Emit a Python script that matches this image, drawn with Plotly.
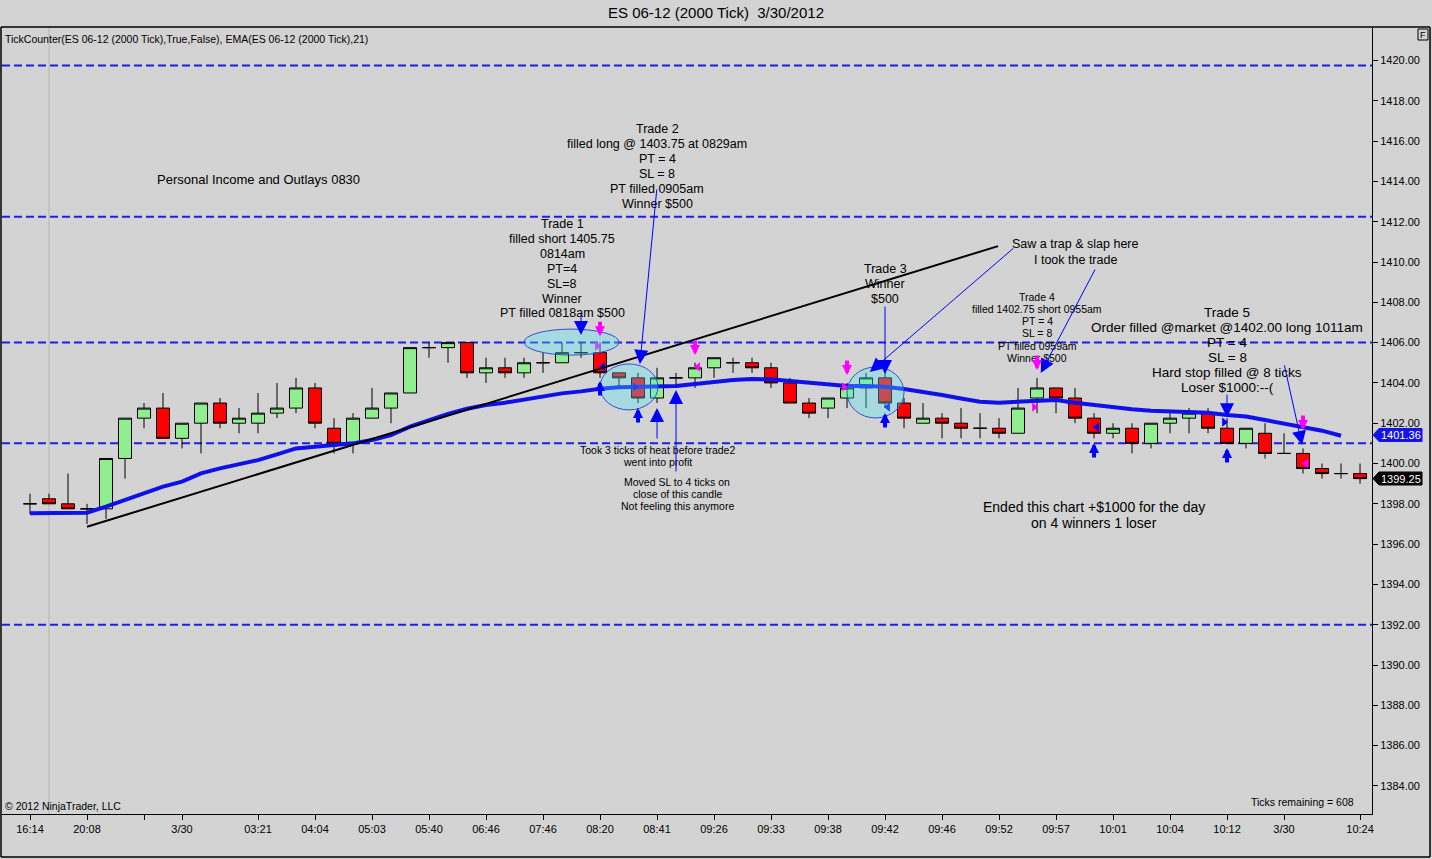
import plotly.graph_objects as go

# --- figure size and plot margins (pixels) ---
W, H = 1432, 859
ML, MR, MT, MB = 2, 60, 28, 45
FONT = "Liberation Sans, Arial, sans-serif"

# --- bar data (ES 06-12, 2000 tick bars) ---
bar_no = list(range(71))
opens = [1398.0, 1398.25, 1398.0, 1397.75, 1397.75, 1400.25, 1402.25, 1402.75, 1401.25, 1402.0,
         1403.0, 1402.0, 1402.0, 1402.5, 1402.75, 1403.75, 1401.75, 1401.0, 1402.25, 1402.75,
         1403.5, 1405.75, 1405.75, 1406.0, 1404.5, 1404.75, 1404.5, 1405.0, 1405.0, 1405.5,
         1405.5, 1404.5, 1404.25, 1403.25, 1404.25, 1404.25, 1404.75, 1405.0, 1405.0, 1404.75,
         1404.0, 1403.0, 1402.75, 1403.25, 1403.75, 1404.25, 1403.0, 1402.0, 1402.25, 1402.0,
         1401.75, 1401.75, 1401.5, 1403.25, 1403.75, 1403.25, 1402.25, 1401.5, 1401.75, 1401.0,
         1402.0, 1402.25, 1402.5, 1401.75, 1401.0, 1401.5, 1400.5, 1400.5, 1399.75, 1399.5,
         1399.5]
highs = [1398.5, 1398.5, 1399.5, 1398.0, 1400.25, 1402.25, 1403.0, 1403.5, 1402.0, 1403.0,
         1403.25, 1402.75, 1403.5, 1404.0, 1404.25, 1404.0, 1402.25, 1402.5, 1403.75, 1403.5,
         1405.75, 1406.0, 1406.0, 1406.0, 1405.25, 1405.25, 1405.25, 1405.5, 1406.0, 1406.0,
         1406.0, 1404.5, 1404.5, 1404.75, 1404.5, 1405.0, 1405.25, 1405.25, 1405.25, 1405.0,
         1404.25, 1403.25, 1403.25, 1404.0, 1404.5, 1404.75, 1403.25, 1403.0, 1402.5, 1402.75,
         1402.5, 1402.25, 1403.75, 1404.25, 1403.75, 1403.75, 1402.5, 1402.0, 1402.0, 1402.0,
         1402.5, 1402.75, 1402.75, 1402.25, 1401.75, 1402.0, 1401.5, 1400.75, 1400.0, 1400.0,
         1400.0]
lows = [1397.5, 1398.0, 1397.75, 1397.0, 1397.25, 1399.25, 1401.75, 1401.25, 1400.75, 1400.5,
        1401.75, 1401.5, 1401.5, 1402.25, 1402.5, 1401.75, 1400.5, 1400.5, 1402.25, 1402.0,
        1403.5, 1405.25, 1405.0, 1404.25, 1404.0, 1404.25, 1404.25, 1404.5, 1405.0, 1405.25,
        1404.25, 1403.75, 1403.0, 1403.0, 1403.75, 1403.75, 1404.25, 1404.5, 1404.5, 1403.75,
        1403.0, 1402.25, 1402.25, 1402.75, 1402.75, 1402.75, 1401.75, 1402.0, 1401.25, 1401.25,
        1401.25, 1401.25, 1401.5, 1402.5, 1402.5, 1402.0, 1401.25, 1401.25, 1400.5, 1400.75,
        1401.5, 1401.5, 1401.5, 1401.0, 1400.75, 1400.25, 1400.5, 1399.5, 1399.25, 1399.25,
        1399.0]
closes = [1398.0, 1398.0, 1397.75, 1397.75, 1400.25, 1402.25, 1402.75, 1401.25, 1402.0, 1403.0,
          1402.0, 1402.25, 1402.5, 1402.75, 1403.75, 1402.0, 1401.0, 1402.25, 1402.75, 1403.5,
          1405.75, 1405.75, 1406.0, 1404.5, 1404.75, 1404.5, 1405.0, 1405.0, 1405.5, 1405.5,
          1404.5, 1404.25, 1403.25, 1404.25, 1404.25, 1404.75, 1405.25, 1405.0, 1404.75, 1404.0,
          1403.0, 1402.5, 1403.25, 1403.75, 1404.25, 1403.0, 1402.25, 1402.25, 1402.0, 1401.75,
          1401.75, 1401.5, 1402.75, 1403.75, 1403.25, 1402.25, 1401.5, 1401.75, 1401.0, 1402.0,
          1402.25, 1402.5, 1401.75, 1401.0, 1401.75, 1400.5, 1400.5, 1399.75, 1399.5, 1399.5,
          1399.25]

# EMA(21) as drawn on the chart (last bar has no value yet)
ema21 = [1397.53, 1397.53, 1397.54, 1397.56, 1397.86, 1398.19, 1398.57, 1398.85, 1399.10, 1399.51,
         1399.76, 1399.96, 1400.17, 1400.45, 1400.75, 1400.83, 1400.92, 1401.00, 1401.17, 1401.41,
         1401.83, 1402.16, 1402.46, 1402.72, 1402.90, 1403.02, 1403.19, 1403.35, 1403.48, 1403.58,
         1403.71, 1403.78, 1403.81, 1403.81, 1403.85, 1403.95, 1404.06, 1404.14, 1404.19, 1404.18,
         1404.10, 1404.01, 1403.90, 1403.85, 1403.85, 1403.81, 1403.70, 1403.57, 1403.40, 1403.23,
         1403.07, 1403.02, 1403.07, 1403.15, 1403.15, 1403.02, 1402.90, 1402.79, 1402.69, 1402.62,
         1402.60, 1402.57, 1402.52, 1402.41, 1402.33, 1402.16, 1402.00, 1401.80, 1401.63, 1401.38]

# time axis labels
tick_bars = [0, 3, 6, 8, 12, 15, 18, 21, 24, 27, 30, 33, 36, 39, 42, 45, 48, 51, 54, 57, 60, 63, 66, 70]
tick_labels = ["16:14", "20:08", "", "3/30", "03:21", "04:04", "05:03", "05:40", "06:46", "07:46",
               "08:20", "08:41", "09:26", "09:33", "09:38", "09:42", "09:46", "09:52", "09:57",
               "10:01", "10:04", "10:12", "3/30", "10:24"]

# horizontal levels drawn by hand
levels = [1419.75, 1412.25, 1406.0, 1401.0, 1392.0]

# execution fill markers (bar, price, direction, colour)
fill_bar = [30, 30, 32, 35, 43, 45, 53, 56, 63, 67]
fill_price = [1405.83, 1404.79, 1403.80, 1404.79, 1403.80, 1402.80, 1402.80, 1401.80, 1402.05, 1400.00]
fill_dir = ["right", "left", "right", "left", "right", "left", "right", "left", "right", "left"]
fill_col = ["#FF00FF", "#0000FF", "#0000FF", "#FF00FF", "#FF00FF", "#0000FF", "#FF00FF", "#0000FF",
            "#0000FF", "#FF00FF"]

# signal arrows: buy (blue, up) and sell (magenta, down), price at the tip
buy_bar = [30, 32, 45, 56, 63]
buy_price = [1404.10, 1402.75, 1402.51, 1401.02, 1400.77]
sell_bar = [30, 35, 43, 53, 67]
sell_price = [1406.32, 1405.38, 1404.39, 1404.64, 1401.66]

X_RANGE = [-1.474, 70.63]
Y_RANGE = [1382.606, 1421.613]
PW, PH = W - ML - MR, H - MT - MB


def px(x):
    return (x - ML) / PW


def py(y):
    return (H - MB - y) / PH


fig = go.Figure()

fig.add_trace(go.Candlestick(
    x=bar_no, open=opens, high=highs, low=lows, close=closes,
    increasing=dict(fillcolor="#90EE90", line=dict(color="black", width=1)),
    decreasing=dict(fillcolor="#FF0000", line=dict(color="black", width=1)),
    hoverinfo="skip", showlegend=False,
))

fig.add_trace(go.Scatter(
    x=bar_no[:len(ema21)], y=ema21, mode="lines",
    line=dict(color="#1010E8", width=4), hoverinfo="skip", showlegend=False,
))

for d in ("left", "right"):
    idx = [i for i, v in enumerate(fill_dir) if v == d]
    shift = 0.15 if d == "left" else -0.15
    fig.add_trace(go.Scatter(
        x=[fill_bar[i] + shift for i in idx], y=[fill_price[i] for i in idx],
        mode="markers", hoverinfo="skip", showlegend=False,
        marker=dict(symbol="triangle-" + d, size=8, color=[fill_col[i] for i in idx], line=dict(width=0)),
    ))

shapes = []
# session break
shapes.append(dict(type="line", xref="x", yref="paper", x0=1, x1=1, y0=0, y1=1,
                   line=dict(color="#B4B4B4", width=1), layer="below"))
for lv in levels:
    shapes.append(dict(type="line", xref="paper", yref="y", x0=0, x1=1, y0=lv, y1=lv,
                       line=dict(color="#1E1EE6", width=2, dash="8px,4px"), layer="below"))

# trend line
shapes.append(dict(type="line", xref="x", yref="y", x0=3.0, y0=1396.86, x1=50.95, y1=1410.79,
                   line=dict(color="black", width=2)))

# highlight ellipses
for x0, x1, y0, y1 in [(26.0, 31.0, 1405.38, 1406.67), (30.0, 33.05, 1402.66, 1404.94),
                       (43.0, 46.0, 1402.26, 1404.79)]:
    shapes.append(dict(type="circle", xref="x", yref="y", x0=x0, x1=x1, y0=y0, y1=y1,
                       fillcolor="rgba(80,230,255,0.33)", line=dict(color="#3050D0", width=1)))

# window frame
frame = dict(type="line", xref="paper", yref="paper", line=dict(color="black", width=1.5))
shapes.append({**frame, "x0": px(1), "x1": px(1430), "y0": py(27), "y1": py(27)})
shapes.append({**frame, "x0": px(1), "x1": px(1430), "y0": py(857), "y1": py(857)})
shapes.append({**frame, "x0": px(1), "x1": px(1), "y0": py(27), "y1": py(857)})
shapes.append({**frame, "x0": px(1430), "x1": px(1430), "y0": py(27), "y1": py(857)})
shapes.append(dict(type="rect", xref="paper", yref="paper", x0=px(1418), x1=px(1428),
                   y0=py(40), y1=py(29), line=dict(color="black", width=1)))


# price markers on the axis
def price_flag(yc, color):
    pts = [(1373, yc), (1379, yc - 6.5), (1422, yc - 6.5), (1422, yc + 6.5), (1379, yc + 6.5)]
    path = "M " + " L ".join(f"{px(a):.5f},{py(b):.5f}" for a, b in pts) + " Z"
    return dict(type="path", xref="paper", yref="paper", path=path, fillcolor=color,
                line=dict(color=color, width=1))


shapes.append(price_flag(435, "#1414E6"))
shapes.append(price_flag(478.5, "black"))

ann = []


def note(text, x, y, size=12.5, anchor="center"):
    ann.append(dict(text=text, x=px(x), y=py(y), xref="paper", yref="paper", showarrow=False,
                    xanchor=anchor, yanchor="middle", font=dict(family=FONT, size=size, color="black")))


def block(lines, x, ys, size):
    for t, y in zip(lines, ys):
        note(t, x, y, size)


note("TickCounter(ES 06-12 (2000 Tick),True,False), EMA(ES 06-12 (2000 Tick),21)", 3, 39, 10.5, "left")
note("© 2012 NinjaTrader, LLC", 3, 806, 10.5, "left")
note("Ticks remaining = 608", 1356, 802, 10.5, "right")
note("F", 1423, 34.5, 9)
note("Personal Income and Outlays 0830", 258, 180, 13)

block(["Trade 2", "filled long @ 1403.75 at 0829am", "PT = 4", "SL = 8", "PT filled 0905am",
       "Winner $500"], 657, [129.3, 144.3, 159.3, 174.3, 189.3, 204.3], 12.5)
block(["Trade 1", "filled short 1405.75", "0814am", "PT=4", "SL=8", "Winner", "PT filled 0818am $500"],
      562, [224.3, 239.3, 254.3, 269.3, 284, 299.3, 313], 12.5)
block(["Saw a trap & slap here", "I took the trade"], 1075, [244.3, 259.6], 12.5)
block(["Trade 3", "Winner", "$500"], 885, [269.3, 284.3, 299.3], 12.5)
block(["Trade 4", "filled 1402.75 short 0955am", "PT = 4", "SL = 8", "PT filled 0959am", "Winner $500"],
      1037, [297.3, 309.3, 321, 333, 346, 358], 10.5)
block(["Trade 5", "Order filled @market @1402.00 long 1011am", "PT = 4", "SL = 8",
       "Hard stop filled @ 8 ticks", "Loser $1000:--("], 1227, [312.7, 327.3, 342.3, 357.3, 372.3, 387.3], 13.5)
block(["Took 3 ticks of heat before trade2", "went into profit"], 657, [450, 462.3], 10.5)
block(["Moved SL to 4 ticks on", "close of this candle", "Not feeling this anymore"], 677,
      [482.3, 494, 506], 10.5)
block(["Ended this chart +$1000 for the day", "on 4 winners 1 loser"], 1094, [507, 523], 14)

# axis price flags text
for val, y in [("1401.36", 435), ("1399.25", 478.5)]:
    ann.append(dict(text=val, x=px(1401), y=py(y), xref="paper", yref="paper", showarrow=False,
                    xanchor="center", yanchor="middle", font=dict(family=FONT, size=11, color="white")))


# pointer arrows from the notes (tip in data space, tail offset in pixels)
def pointer(bar, price, ax, ay):
    ann.append(dict(text="", x=bar, y=price, xref="x", yref="y", ax=ax, ay=ay, showarrow=True,
                    arrowhead=2, arrowsize=2.8, arrowwidth=1, arrowcolor="#0000FF", standoff=0))


pointer(29, 1406.38, 0, -22)
pointer(32.1, 1404.94, 17, -176)
pointer(33, 1402.75, 0, 32)
pointer(34, 1403.65, 0, 83)
pointer(45, 1404.44, 0, -69)
pointer(44.2, 1404.54, 145, -125)
pointer(53.2, 1404.49, 55, -105)
pointer(63, 1402.3, 0, -24)
pointer(66.95, 1400.92, -18, -81)

for b, p in zip(buy_bar, buy_price):
    ann.append(dict(text="", x=b, y=p, xref="x", yref="y", ax=0, ay=16, showarrow=True,
                    arrowhead=2, arrowsize=0.5, arrowwidth=4, arrowcolor="#0000FF", standoff=0))
for b, p in zip(sell_bar, sell_price):
    ann.append(dict(text="", x=b, y=p, xref="x", yref="y", ax=0, ay=-16, showarrow=True,
                    arrowhead=2, arrowsize=0.5, arrowwidth=4, arrowcolor="#FF00FF", standoff=0))

fig.update_layout(
    width=W, height=H,
    margin=dict(l=ML, r=MR, t=MT, b=MB, pad=0),
    paper_bgcolor="#D3D3D3", plot_bgcolor="#D3D3D3",
    font=dict(family=FONT, size=11, color="black"),
    title=dict(text="ES 06-12 (2000 Tick)  3/30/2012", x=0.5, xref="container", xanchor="center",
               y=1 - 13 / H, yref="container", yanchor="middle", font=dict(size=15, family=FONT)),
    showlegend=False, boxgap=0.02,
    shapes=shapes, annotations=ann,
    xaxis=dict(range=X_RANGE, rangeslider=dict(visible=False), showgrid=False, zeroline=False,
               tickmode="array", tickvals=tick_bars, ticktext=tick_labels, ticks="outside",
               ticklen=5, tickcolor="black", showline=True, linecolor="black", linewidth=1,
               tickfont=dict(size=11)),
    yaxis=dict(range=Y_RANGE, side="right", showgrid=False, zeroline=False, tick0=1384, dtick=2,
               tickformat=".2f", ticks="outside", ticklen=5, tickcolor="black", showline=True,
               linecolor="black", linewidth=1, tickfont=dict(size=11)),
)

fig.write_html("out.html", config={"displayModeBar": False},
               post_script="document.body.style.margin='0';")
